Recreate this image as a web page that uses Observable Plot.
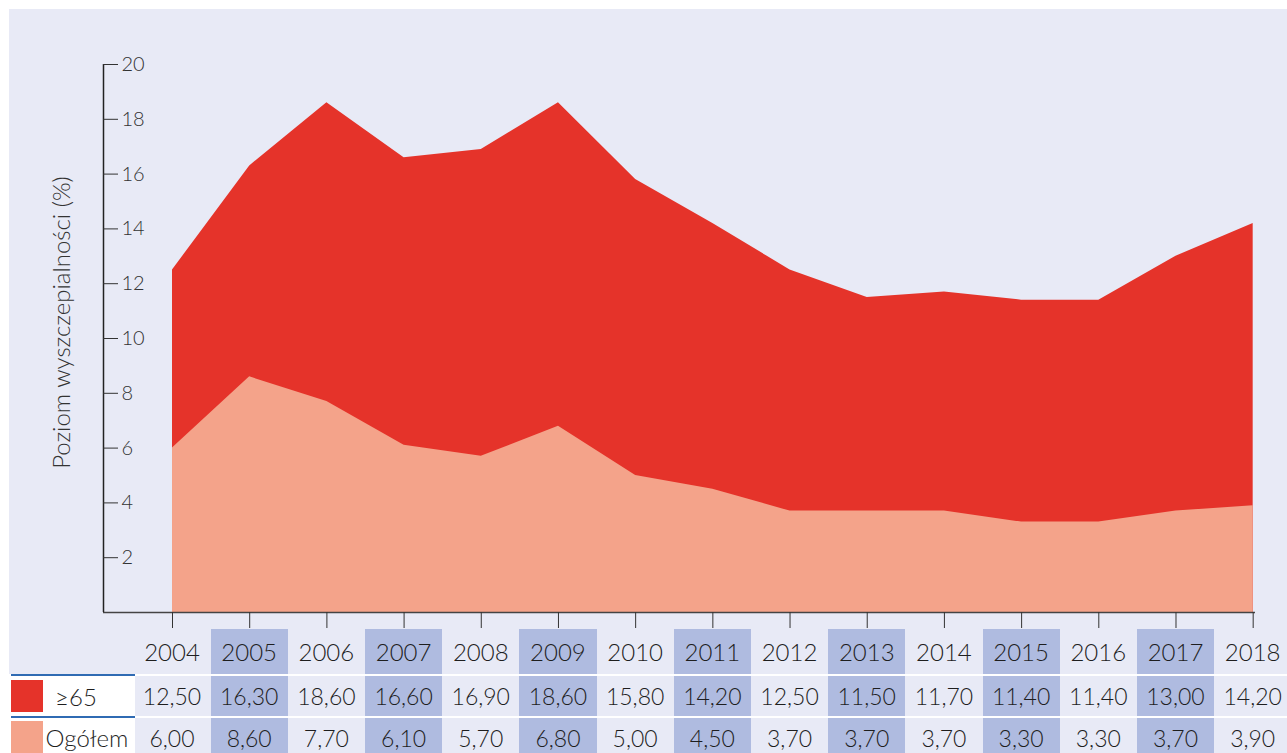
<!DOCTYPE html>
<html><head><meta charset="utf-8">
<script src="https://cdn.jsdelivr.net/npm/d3@7"></script>
<script src="https://cdn.jsdelivr.net/npm/@observablehq/plot@0.6"></script>
<style>
body{margin:0;background:#fff;font-family:Lato,"Noto Sans",sans-serif;}
#bg{position:absolute;left:9px;top:9px;width:1278px;height:744px;background:#e8eaf6;}
#chart{position:absolute;left:0;top:0;}
.cell{position:absolute;display:flex;align-items:center;justify-content:center;color:#1e1e1e;font-weight:300;box-sizing:border-box;}
.abs{position:absolute;}
</style></head><body>
<div id="bg"></div><div id="chart"></div><div id="table"></div>
<script>
const years = [2004,2005,2006,2007,2008,2009,2010,2011,2012,2013,2014,2015,2016,2017,2018];
const seniors = [12.5,16.3,18.6,16.6,16.9,18.6,15.8,14.2,12.5,11.5,11.7,11.4,11.4,13.0,14.2];
const overall = [6.0,8.6,7.7,6.1,5.7,6.8,5.0,4.5,3.7,3.7,3.7,3.3,3.3,3.7,3.9];
const seriesNames = ["≥65","Ogółem"];
const seriesColors = ["#e5332a","#f4a38a"];
const yTicks = [2,4,6,8,10,12,14,16,18,20];
const yLabel = "Poziom wyszczepialności (%)";

const rows = years.map((year,i)=>({year, seniors: seniors[i], overall: overall[i]}));
const xDomain = [2003.106, 2018.03];

const plot = Plot.plot({
  width:1287, height:629,
  marginLeft:103, marginRight:32, marginTop:64, marginBottom:17,
  style:{background:"transparent", fontFamily:"Lato, 'Noto Sans', sans-serif", fontSize:"20px", color:"#333"},
  x:{domain:xDomain},
  y:{domain:[0,20]},
  marks:[
    Plot.areaY(rows,{x:"year", y:"seniors", fill:seriesColors[0]}),
    Plot.areaY(rows,{x:"year", y:"overall", fill:seriesColors[1]}),
    Plot.ruleY([0],{stroke:"#444", strokeWidth:1.5}),
    Plot.ruleX([xDomain[0]],{y1:0, y2:20, stroke:"#222", strokeWidth:1.5}),
    Plot.axisY({ticks:yTicks, tickSize:-15, tickPadding:-3, textAnchor:"start", label:null, tickFormat:d=>d, fontWeight:300}),
    Plot.axisX({ticks:years, tickSize:16, tickFormat:()=>"", label:null}),
    Plot.text([yLabel],{frameAnchor:"left", textAnchor:"middle", rotate:-90, dx:-41, dy:-16, fontSize:24, fontWeight:300, fill:"#333"})
  ]
});
document.getElementById("chart").appendChild(plot);

const xs = plot.scale("x");
const table = document.getElementById("table");
const colW = xs.apply(2005) - xs.apply(2004);
function addCell(txt, left, top, w, h, size, bg){
  const d = document.createElement("div");
  d.className = "cell";
  d.style.left = left+"px"; d.style.top = top+"px"; d.style.width = w+"px"; d.style.height = h+"px";
  d.style.fontSize = size+"px";
  if (bg) d.style.background = bg;
  d.textContent = txt;
  table.appendChild(d);
  return d;
}
function addBox(left, top, w, h, bg){
  const d = document.createElement("div");
  d.className = "abs";
  d.style.left = left+"px"; d.style.top = top+"px"; d.style.width = w+"px"; d.style.height = h+"px";
  d.style.background = bg;
  table.appendChild(d);
}
const fmt = v => v.toFixed(2).replace(".", ",");
years.forEach((y,i)=>{
  const cx = xs.apply(y);
  const left = cx - colW/2;
  const bg = (y % 2 === 1) ? "#afbbe0" : null;
  addCell(String(y), left, 629, colW, 45, 24, bg);
  addCell(fmt(seniors[i]), left, 676, colW, 40, 23, bg);
  addCell(fmt(overall[i]), left, 718, colW, 35, 23, bg).style.paddingTop = "4px";
});
// white separators
addBox(135, 674, 1152, 2, "#ffffff");
addBox(135, 716, 1152, 2, "#ffffff");
// legend column
addBox(9, 674, 126, 79, "#ffffff");
addBox(11, 674, 124, 2, "#2f6bb3");
addBox(11, 716, 124, 2, "#2f6bb3");
addBox(11, 680, 32, 32, seriesColors[0]);
addBox(11, 721, 32, 32, seriesColors[1]);
addCell(seriesNames[0], 50, 676, 52, 40, 24, null);
addCell(seriesNames[1], 44, 718, 86, 35, 24, null).style.paddingTop = "4px";
</script>
</body></html>
